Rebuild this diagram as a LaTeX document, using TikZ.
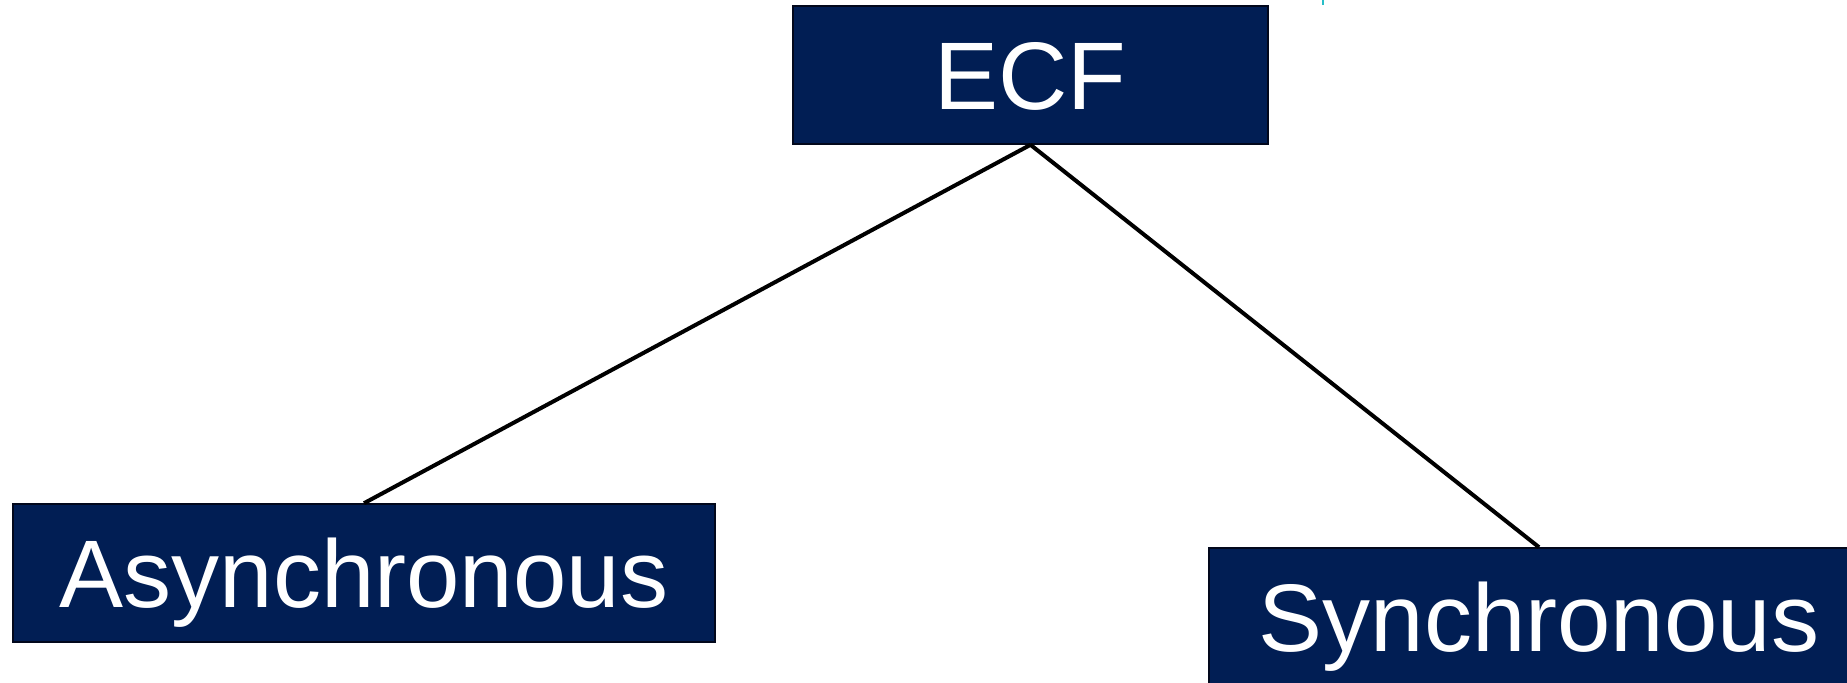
\documentclass[tikz,border=0pt]{standalone}
\usepackage{fontspec}
\setmainfont{Liberation Sans}
\definecolor{boxblue}{RGB}{1,30,84}
\definecolor{boxedge}{RGB}{2,8,28}
\definecolor{tickcyan}{RGB}{40,190,200}
\begin{document}
\begin{tikzpicture}[x=0.5pt,y=-0.5pt,
  catbox/.style={rectangle, fill=boxblue, draw=boxedge, line width=0.8pt,
    inner sep=0pt, text=white,
    font=\fontsize{48}{56}\selectfont, text height=34.4pt, text depth=0pt},
  link/.style={draw=black, line width=2pt}]
  \useasboundingbox (0,0) rectangle (1847,682);

  % category boxes
  \node[catbox, minimum width=237.5pt, minimum height=69pt] (ecf) at (1030.5,75) {ECF};
  \node[catbox, minimum width=351pt, minimum height=69pt] (async) at (364,573) {Asynchronous};
  \node[catbox, minimum width=330pt, minimum height=69pt] (sync) at (1539,617) {Synchronous};

  % connectors from the root to both children
  \path[link] (ecf.south) -- (async.north);
  \path[link] (ecf.south) -- (sync.north);

  % small mark at the top edge
  \coordinate (tickA) at (1323,0);
  \coordinate (tickB) at (1323,5);
  \draw[tickcyan, line width=0.6pt] (tickA) -- (tickB);
\end{tikzpicture}
\end{document}
